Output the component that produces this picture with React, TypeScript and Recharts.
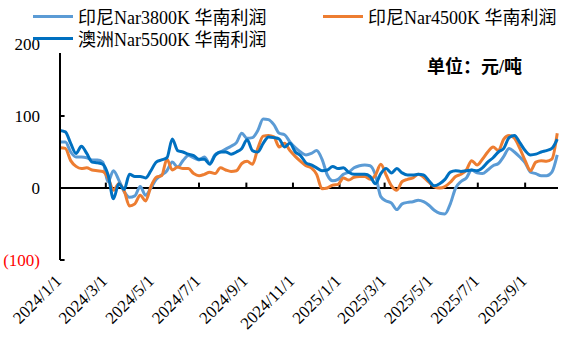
import { LineChart, Line, XAxis, YAxis, ReferenceLine } from "recharts";

// weekly samples starting 2024/1/1 (one point every 7 days)
const nar3800 = [
  64, 64, 50, 43, 43, 42, 39, 39, 36, 9, 24, 11, -5, -13, -11, 2, -10, 0, 12, 18, 24, 36, 29, 38,
  45, 42, 39, 43, 34, 46, 50, 54, 58, 63, 76, 69, 70, 80, 96, 95, 88, 76, 74, 64, 56, 50, 46,
  48, 52, 40, 18, 10, 12, 19, 22, 28, 31, 32, 31, 18, -12, -18, -21, -30, -22, -20, -19, -17, -19, -24, -31,
  -35, -36, -22, 0, 9, 14, 25, 21, 20, 25, 31, 34, 44, 55, 50, 43, 35, 22, 20, 17, 17, 22, 46,
];
const nar4500 = [
  56, 55, 38, 30, 27, 28, 25, 24, 23, 14, -3, 6, -4, -25, -22, -10, -18, 2, 15, 17, 40, 25, 29, 27,
  27, 20, 17, 19, 22, 20, 28, 25, 23, 24, 34, 37, 33, 55, 72, 73, 71, 57, 62, 52, 44, 37, 31,
  28, 19, -1, 0, 4, 5, 14, 11, 15, 16, 16, 12, 18, 33, 18, 3, -3, 9, 12, 14, 19, 15, 8, 2,
  0, 2, 8, 16, 19, 25, 38, 32, 40, 50, 57, 52, 68, 73, 69, 55, 38, 24, 36, 38, 37, 40, 76,
];
const nar5500 = [
  80, 78, 62, 48, 58, 48, 36, 35, 33, 18, -15, 6, -2, 19, 16, 16, 14, 24, 36, 39, 42, 68, 52, 50,
  47, 45, 40, 40, 33, 45, 50, 50, 47, 50, 55, 67, 52, 50, 62, 71, 70, 68, 57, 62, 50, 45, 35,
  32, 28, 24, 25, 30, 27, 28, 22, 19, 19, 19, 16, 6, 20, 27, 21, 27, 21, 18, 18, 19, 18, 10, 3,
  6, 12, 22, 24, 23, 24, 25, 24, 28, 36, 42, 50, 55, 70, 73, 63, 52, 46, 47, 50, 52, 55, 68,
];

const tickDates = [
  "2024/1/1", "2024/3/1", "2024/5/1", "2024/7/1", "2024/9/1", "2024/11/1",
  "2025/1/1", "2025/3/1", "2025/5/1", "2025/7/1", "2025/9/1",
];
const yTicks = [-100, 0, 100, 200];

const SERIES = [
  { key: "nar3800", name: "印尼Nar3800K 华南利润", color: "#5B9BD5" },
  { key: "nar4500", name: "印尼Nar4500K 华南利润", color: "#ED7D31" },
  { key: "nar5500", name: "澳洲Nar5500K 华南利润", color: "#0070C0" },
];

const START = Date.UTC(2024, 0, 1);
const DAY = 86400000;
function dayOf(s: string) {
  const [y, m, d] = s.split("/").map(Number);
  return (Date.UTC(y, m - 1, d) - START) / DAY;
}
const xTicks = tickDates.map(dayOf);

const data = nar3800.map((v, i) => ({
  day: i * 7,
  nar3800: v,
  nar4500: nar4500[i],
  nar5500: nar5500[i],
}));

const FONT = '"Liberation Serif", "Noto Sans CJK SC", serif';

function XTick({ x, y, payload }: any) {
  const label = tickDates[xTicks.indexOf(payload.value)];
  const ax = x + 2.5;
  const ay = y + 22;
  return (
    <text
      x={ax}
      y={ay}
      textAnchor="end"
      transform={`rotate(-45 ${ax} ${ay})`}
      fontSize={17}
      fontFamily={FONT}
      fill="#000"
    >
      {label}
    </text>
  );
}

function YTick({ x, y, payload }: any) {
  const v = payload.value;
  return (
    <text
      x={x}
      y={y}
      dy="0.35em"
      textAnchor="end"
      fontSize={17}
      fontFamily={FONT}
      fill={v < 0 ? "#FF0000" : "#000"}
    >
      {v < 0 ? `(${-v})` : v}
    </text>
  );
}

const legendPos = [
  { left: 33, top: 16 },
  { left: 323, top: 16 },
  { left: 33, top: 38 },
];

export default function App() {
  return (
    <div
      style={{
        position: "absolute",
        left: 0,
        top: 0,
        width: 586,
        height: 342,
        background: "#fff",
        overflow: "hidden",
      }}
    >
      <LineChart
        width={586}
        height={342}
        data={data}
        margin={{ top: 44, right: 28, bottom: 22, left: 0 }}
      >
        <XAxis
          dataKey="day"
          type="number"
          domain={[0, 652]}
          ticks={xTicks}
          interval={0}
          tick={<XTick />}
          axisLine={false}
          tickLine={false}
          tickSize={0}
          tickMargin={0}
          height={60}
        />
        <YAxis
          domain={[-100, 200]}
          ticks={yTicks}
          interval={0}
          width={60}
          tick={<YTick />}
          tickLine={false}
          tickSize={0}
          tickMargin={20}
          axisLine={{ stroke: "#000", strokeWidth: 2 }}
        />
        <ReferenceLine y={0} stroke="#000" strokeWidth={2} />
        {xTicks.slice(1).map((t) => (
          <ReferenceLine
            key={"xt" + t}
            segment={[{ x: t, y: 0 }, { x: t, y: 7.5 }]}
            stroke="#000"
            strokeWidth={2}
          />
        ))}
        {yTicks.map((v) => (
          <ReferenceLine
            key={"yt" + v}
            segment={[{ x: 0, y: v }, { x: 6, y: v }]}
            stroke="#000"
            strokeWidth={2}
          />
        ))}
        {SERIES.map((s) => (
          <Line
            key={s.key}
            dataKey={s.key}
            type="monotone"
            stroke={s.color}
            strokeWidth={3}
            dot={false}
            isAnimationActive={false}
          />
        ))}
      </LineChart>

      {/* legend box sits over the top of the plot, like the original */}
      <div
        style={{
          position: "absolute",
          left: 42,
          top: 0,
          width: 544,
          height: 53,
          background: "#fff",
        }}
      />
      {SERIES.map((s, i) => (
        <div
          key={s.key}
          style={{
            position: "absolute",
            left: legendPos[i].left,
            top: legendPos[i].top - 11,
            height: 22,
            display: "flex",
            alignItems: "center",
            fontFamily: FONT,
            fontSize: 18,
            color: "#000",
            whiteSpace: "nowrap",
          }}
        >
          <span
            style={{
              display: "inline-block",
              width: 40,
              height: 3,
              background: s.color,
              marginRight: 5,
            }}
          />
          {s.name}
        </div>
      ))}
      <div
        style={{
          position: "absolute",
          left: 427,
          top: 56,
          fontFamily: FONT,
          fontSize: 18,
          fontWeight: "bold",
          lineHeight: "22px",
          color: "#000",
          whiteSpace: "nowrap",
        }}
      >
        单位：元/吨
      </div>
    </div>
  );
}
